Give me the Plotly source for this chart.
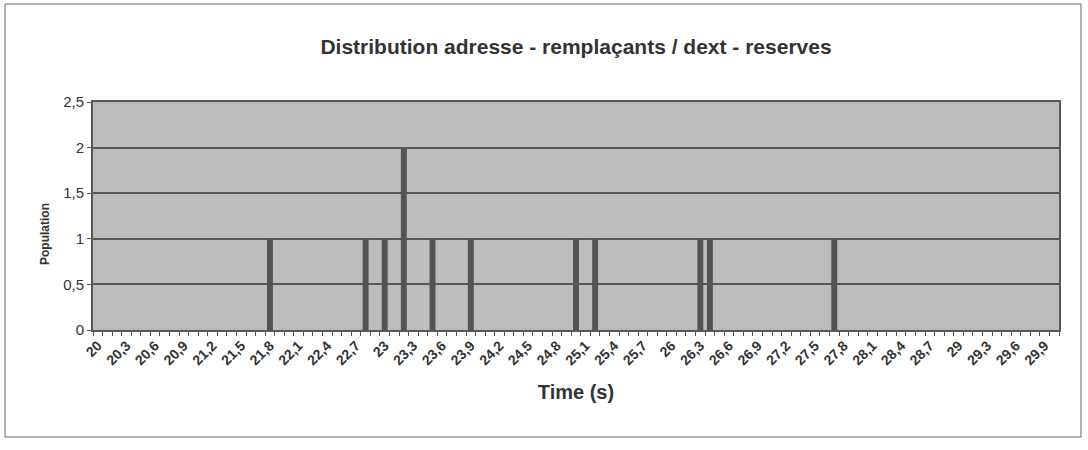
import plotly.graph_objects as go

# Time categories 20,0 s .. 30,0 s in 0,1 s steps (French decimal comma)
tenths = list(range(200, 301))
time_labels = [f"{t // 10}" if t % 10 == 0 else f"{t // 10},{t % 10}" for t in tenths]
# every third category carries a visible label
tick_text = [f"<b>{lab}</b>" if i % 3 == 0 else "" for i, lab in enumerate(time_labels)]

# Observed events: time (s) and population count
event_times = ["21,8", "22,8", "23", "23,2", "23,5", "23,9", "25", "25,2", "26,3", "26,4", "27,7"]
event_population = [1, 1, 1, 2, 1, 1, 1, 1, 1, 1, 1]

y_ticks = [0, 0.5, 1, 1.5, 2, 2.5]

ink = "#333333"
bar_col = "#535353"
grid_col = "#585858"

fig = go.Figure()
fig.add_trace(go.Bar(
    x=event_times,
    y=event_population,
    marker=dict(color=bar_col, line=dict(width=0)),
))

fig.update_layout(
    width=1088,
    height=450,
    separators=", ",
    paper_bgcolor="white",
    plot_bgcolor="#bdbdbd",
    margin=dict(l=93, r=29, t=102, b=120),
    bargap=0.38,
    showlegend=False,
    font=dict(family="Liberation Sans, Arial, sans-serif", color=ink),
    title=dict(
        text="<b>Distribution adresse - remplaçants / dext - reserves</b>",
        x=0.5, xref="paper", xanchor="center",
        y=1 - 47 / 450, yref="container", yanchor="middle",
        font=dict(size=21, color=ink),
    ),
    xaxis=dict(
        type="category",
        categoryorder="array",
        categoryarray=time_labels,
        range=[-0.5, len(time_labels) - 0.5],
        tickmode="array",
        tickvals=time_labels,
        ticktext=tick_text,
        tickangle=-45,
        tickfont=dict(size=14, color=ink),
        tickson="boundaries",
        ticks="outside",
        ticklen=4,
        tickwidth=1,
        tickcolor=grid_col,
        showgrid=False,
        showline=True,
        linecolor=grid_col,
        linewidth=2,
        mirror=True,
        title=dict(text="<b>Time (s)</b>", font=dict(size=20, color=ink), standoff=18),
    ),
    yaxis=dict(
        range=[0, 2.5],
        tickvals=y_ticks,
        tickfont=dict(size=15, color=ink),
        ticks="outside",
        ticklen=4,
        tickcolor=grid_col,
        showgrid=True,
        gridcolor=grid_col,
        gridwidth=2,
        zeroline=False,
        showline=True,
        linecolor=grid_col,
        linewidth=2,
        mirror=True,
    ),
    annotations=[dict(
        text="<b>Population</b>", textangle=-90,
        xref="paper", yref="paper",
        x=(45 - 93) / 966, y=(330 - 234) / 228,
        xanchor="center", yanchor="middle", showarrow=False,
        font=dict(size=12, color=ink),
    )],
)

# outer chart frame
fig.add_shape(
    type="rect", xref="paper", yref="paper",
    x0=(5 - 93) / 966, x1=(1081 - 93) / 966,
    y0=(330 - 437) / 228, y1=(330 - 4) / 228,
    line=dict(color="#666666", width=1), fillcolor="rgba(0,0,0,0)", layer="below",
)

fig.write_html("out.html")
